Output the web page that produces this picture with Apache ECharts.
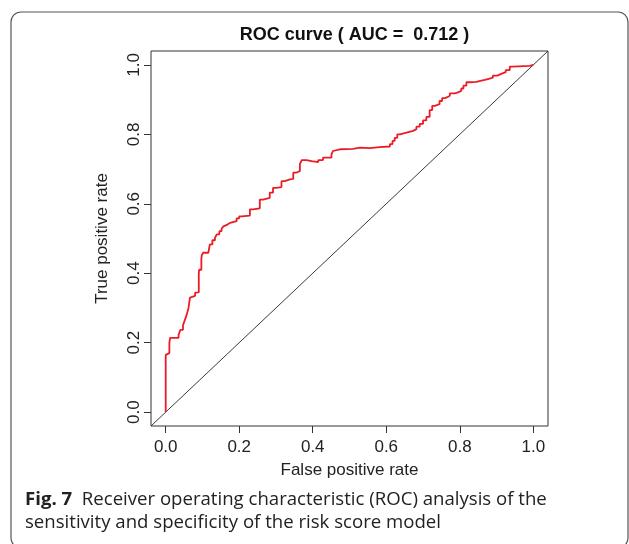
<!DOCTYPE html>
<html>
<head>
<meta charset="utf-8">
<script src="https://cdn.jsdelivr.net/npm/echarts@6/dist/echarts.min.js"></script>
<style>
  html, body { margin: 0; padding: 0; background: #ffffff; }
  #chart { width: 629px; height: 544px; }
</style>
</head>
<body>
<div id="chart"></div>
<script>
// ROC curve of the risk score model: false positive rate vs. true positive rate
const fpr = [0, 0, 0.002, 0.01, 0.012, 0.018, 0.035, 0.04, 0.047, 0.052, 0.057, 0.062, 0.066, 0.07,
  0.08, 0.084, 0.09, 0.091, 0.097, 0.098, 0.102, 0.116, 0.12, 0.127, 0.134, 0.139, 0.146, 0.152,
  0.157, 0.161, 0.168, 0.175, 0.193, 0.2, 0.207, 0.229, 0.238, 0.256, 0.265, 0.283, 0.292, 0.301,
  0.315, 0.324, 0.338, 0.347, 0.356, 0.365, 0.37, 0.383, 0.397, 0.415, 0.428, 0.442, 0.451, 0.455,
  0.46, 0.474, 0.51, 0.528, 0.555, 0.582, 0.61, 0.617, 0.623, 0.63, 0.637, 0.641, 0.655, 0.673,
  0.682, 0.691, 0.7, 0.709, 0.718, 0.725, 0.732, 0.745, 0.752, 0.759, 0.766, 0.773, 0.786, 0.795,
  0.804, 0.81, 0.818, 0.827, 0.845, 0.856, 0.868, 0.879, 0.89, 0.902, 0.913, 0.925, 0.936, 0.945,
  0.99, 1];
const tpr = [0, 0.045, 0.165, 0.17, 0.2, 0.214, 0.214, 0.222, 0.237, 0.25, 0.265, 0.28, 0.3, 0.33,
  0.335, 0.344, 0.345, 0.4, 0.41, 0.44, 0.452, 0.459, 0.462, 0.483, 0.495, 0.502, 0.512, 0.521,
  0.528, 0.535, 0.54, 0.545, 0.55, 0.558, 0.564, 0.566, 0.584, 0.587, 0.612, 0.617, 0.632, 0.646,
  0.648, 0.665, 0.67, 0.672, 0.69, 0.694, 0.714, 0.726, 0.723, 0.72, 0.726, 0.733, 0.733, 0.742,
  0.752, 0.757, 0.758, 0.762, 0.76, 0.763, 0.765, 0.772, 0.781, 0.79, 0.8, 0.805, 0.805, 0.81,
  0.815, 0.822, 0.83, 0.84, 0.85, 0.87, 0.882, 0.887, 0.896, 0.904, 0.907, 0.911, 0.918, 0.921,
  0.925, 0.932, 0.94, 0.95, 0.951, 0.954, 0.957, 0.96, 0.963, 0.969, 0.974, 0.979, 0.985, 0.995,
  0.997, 1];

// chance line endpoints (spans the whole plotting region)
const refLine = [[-0.04, -0.04], [1.04, 1.04]];

const xTicks = [0, 0.2, 0.4, 0.6, 0.8, 1.0];
const yTicks = [0, 0.2, 0.4, 0.6, 0.8, 1.0];

const titleText = 'ROC curve ( AUC =  0.712 )';
const xName = 'False positive rate';
const yName = 'True positive rate';
const captionBold = 'Fig. 7';
const captionLine1 = 'Receiver operating characteristic (ROC) analysis of the';
const captionLine2 = 'sensitivity and specificity of the risk score model';

const plotFont = 'Liberation Sans, Arial, sans-serif';
const captionFont = 'Open Sans, Noto Sans, sans-serif';
const ink = '#222222';

function axisCommon(ticks) {
  return {
    type: 'value',
    min: -0.04,
    max: 1.04,
    axisLine: { show: false, onZero: false },
    splitLine: { show: false },
    axisTick: { show: true, inside: false, length: 7, customValues: ticks,
      lineStyle: { color: '#333', width: 1 } },
    axisLabel: { customValues: ticks, formatter: v => Number(v).toFixed(1),
      fontSize: 17, fontFamily: plotFont, color: ink },
    nameLocation: 'middle',
    nameTextStyle: { fontSize: 17, fontFamily: plotFont, color: ink }
  };
}

const xAxis = axisCommon(xTicks);
xAxis.name = xName;
xAxis.nameGap = 36;
xAxis.axisLabel.margin = 13;

const yAxis = axisCommon(yTicks);
yAxis.name = yName;
yAxis.nameGap = 40;
yAxis.axisLabel.rotate = 90;
yAxis.axisLabel.margin = 8;

const chart = echarts.init(document.getElementById('chart'), null, { renderer: 'canvas' });
chart.setOption({
  animation: false,
  backgroundColor: '#ffffff',
  title: {
    text: titleText,
    left: 349.5,
    textAlign: 'center',
    top: 21,
    textStyle: { fontSize: 18, fontWeight: 'bold', fontFamily: plotFont, color: '#111' }
  },
  grid: {
    left: 151, right: 81, top: 51, bottom: 118,
    show: true, borderColor: '#333', borderWidth: 1, backgroundColor: 'transparent'
  },
  xAxis: xAxis,
  yAxis: yAxis,
  series: [
    {
      type: 'line',
      data: refLine,
      showSymbol: false,
      lineStyle: { color: '#3a3a3a', width: 1 },
      silent: true
    },
    {
      type: 'line',
      step: 'start',
      data: fpr.map((x, i) => [x, tpr[i]]),
      showSymbol: false,
      lineStyle: { color: '#ec1c26', width: 1.8 },
      silent: true
    }
  ],
  graphic: [
    {
      type: 'rect',
      shape: { x: 11, y: 12, width: 617, height: 536, r: 10 },
      style: { fill: 'none', stroke: '#555', lineWidth: 1.2 },
      silent: true
    },
    {
      type: 'text',
      left: 25,
      top: 490,
      style: {
        text: '{b|' + captionBold + '}  ' + captionLine1,
        fontSize: 18.6, fontFamily: captionFont, fill: ink,
        rich: { b: { fontSize: 18.6, fontFamily: captionFont, fontWeight: 'bold', fill: ink } }
      }
    },
    {
      type: 'text',
      left: 25,
      top: 513,
      style: { text: captionLine2, fontSize: 18.6, fontFamily: captionFont, fill: ink }
    }
  ]
});
</script>
</body>
</html>
